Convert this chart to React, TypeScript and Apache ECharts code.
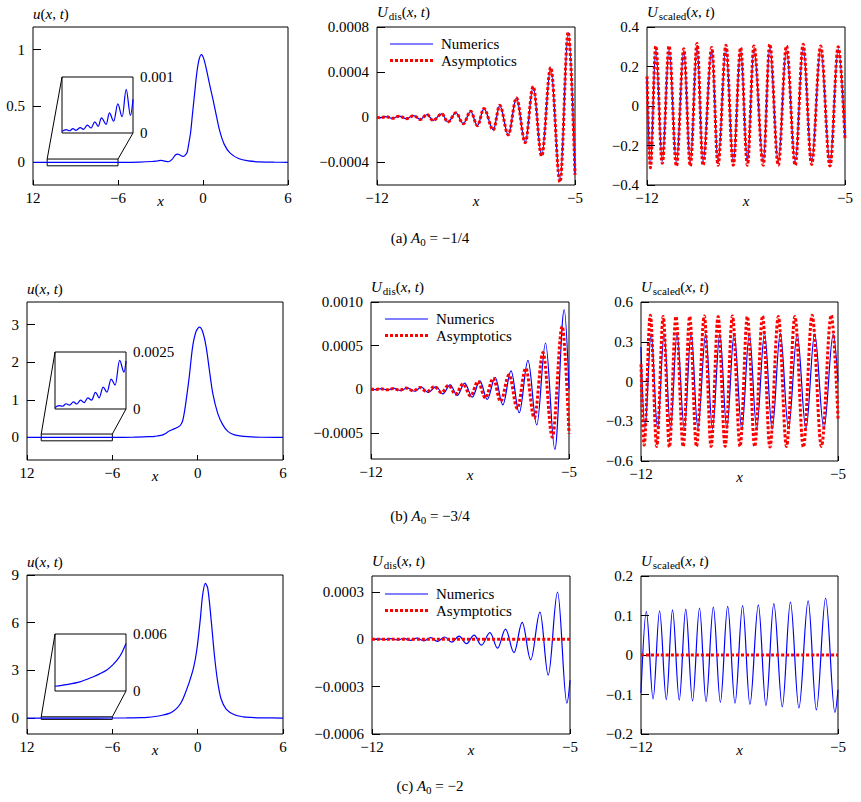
import React, { useEffect, useRef } from 'react';
import * as echarts from 'echarts';

const SERIF = 'Liberation Serif, DejaVu Serif, serif';
const BLUE = '#0000ff';
const RED = '#ff0000';

// magnified window: x-range shared by all three rows
const INSET_X = [-11, -6];

// ---------------- (a) A0 = -1/4 ----------------
const uCurveA: [number, number][] = [
  [-12, 0], [-8, 0.0005], [-6, 0.001], [-4.5, 0.003], [-3.6, 0.008], [-3.2, 0.014], [-2.95, 0.018],
  [-2.7, 0.012], [-2.45, 0.006], [-2.2, 0.025], [-1.95, 0.066], [-1.8, 0.074], [-1.6, 0.064],
  [-1.42, 0.053], [-1.25, 0.065], [-1.12, 0.09], [-1.0, 0.17], [-0.87, 0.27], [-0.75, 0.42],
  [-0.6, 0.6], [-0.45, 0.78], [-0.3, 0.9], [-0.12, 0.955], [0.05, 0.92], [0.25, 0.82], [0.45, 0.7],
  [0.7, 0.56], [0.95, 0.41], [1.2, 0.27], [1.5, 0.16], [1.9, 0.085], [2.5, 0.035], [3.2, 0.013],
  [4, 0.005], [5, 0.002], [6, 0.001],
];
const insetXA = [-11, -10.7, -10.47, -10.23, -10.02, -9.71, -9.49, -9.21, -8.95, -8.69, -8.45, -8.22, -7.89, -7.66, -7.36, -7.07, -6.76, -6.48, -6.18, -6];
const insetA = [0.00003, 0.00006, 0.00004, 0.000077, 0.000048, 0.000095, 0.000065, 0.00014, 0.00009, 0.0002, 0.00012, 0.00027, 0.000155, 0.00036, 0.00021, 0.00052, 0.00029, 0.00078, 0.000315, 0.0006];

const xA = [-12, -11.88, -11.69, -11.46, -11.22, -10.96, -10.7, -10.47, -10.23, -10.02, -9.71, -9.49, -9.21, -8.95, -8.69, -8.45, -8.22, -7.89, -7.66, -7.36, -7.07, -6.76, -6.48, -6.18, -5.86, -5.53, -5.24, -5];
const disNumA = [0.000002, -0.000005, 0.000006, -0.000009, 0.00001, -0.000012, 0.000015, -0.000018, 0.000024, -0.000027, 0.00003, -0.000041, 0.000039, -0.000056, 0.000053, -0.000074, 0.000077, -0.00011, 0.000104, -0.000154, 0.000169, -0.000222, 0.00027, -0.00034, 0.000438, -0.000569, 0.00075, -0.0005];
const disAsyA = [0.000002, -0.000005, 0.000006, -0.000009, 0.00001, -0.000012, 0.000015, -0.000019, 0.000024, -0.000028, 0.00003, -0.000042, 0.00004, -0.000057, 0.000054, -0.000075, 0.000078, -0.000112, 0.000106, -0.000156, 0.000171, -0.000225, 0.000273, -0.000344, 0.000442, -0.000574, 0.000755, -0.00051];
const scNumA = [0.14, -0.295, 0.29, -0.28, 0.29, -0.29, 0.28, -0.29, 0.3, -0.285, 0.285, -0.285, 0.295, -0.285, 0.285, -0.285, 0.29, -0.285, 0.3, -0.285, 0.29, -0.285, 0.3, -0.285, 0.29, -0.29, 0.29, -0.16];
const scAsyA = [0.15, -0.313, 0.304, -0.29, 0.304, -0.304, 0.29, -0.304, 0.316, -0.3, 0.296, -0.3, 0.308, -0.3, 0.296, -0.3, 0.304, -0.3, 0.313, -0.3, 0.304, -0.3, 0.313, -0.296, 0.304, -0.304, 0.3, -0.17];

const uTicksA = [0, 0.5, 1];
const uLabelsA = ['0', '0.5', '1'];
const disTicksA = [-0.0004, 0, 0.0004, 0.0008];
const disLabelsA = ['−0.0004', '0', '0.0004', '0.0008'];
const scTicksA = [-0.4, -0.2, 0, 0.2, 0.4];
const scLabelsA = ['−0.4', '−0.2', '0', '0.2', '0.4'];

// ---------------- (b) A0 = -3/4 ----------------
const uCurveB: [number, number][] = [
  [-12, 0], [-6, 0.002], [-4.5, 0.008], [-3.5, 0.02], [-3.0, 0.03], [-2.5, 0.06], [-2.2, 0.12],
  [-2.0, 0.17], [-1.7, 0.22], [-1.4, 0.27], [-1.2, 0.33], [-1.05, 0.45], [-0.9, 0.75], [-0.75, 1.15],
  [-0.59, 1.62], [-0.35, 2.42], [-0.12, 2.81], [0.12, 2.93], [0.35, 2.81], [0.59, 2.42], [0.82, 1.8],
  [1.06, 1.18], [1.41, 0.64], [1.76, 0.34], [2.12, 0.16], [2.59, 0.07], [3.53, 0.02], [4.5, 0.005], [6, 0],
];
const insetXB = [-11, -10.72, -10.46, -10.22, -9.98, -9.7, -9.46, -9.2, -8.95, -8.69, -8.42, -8.15, -7.89, -7.61, -7.34, -7.05, -6.76, -6.45, -6.14, -6];
const insetB = [0.00007, 0.00015, 0.00012, 0.00023, 0.00017, 0.00031, 0.00022, 0.00039, 0.00028, 0.00049, 0.00039, 0.00073, 0.00049, 0.00096, 0.00074, 0.00131, 0.00105, 0.00213, 0.00162, 0.0021];

const xNumB = [-12, -11.86, -11.64, -11.41, -11.18, -10.95, -10.72, -10.46, -10.22, -9.98, -9.7, -9.46, -9.2, -8.95, -8.69, -8.42, -8.15, -7.89, -7.61, -7.34, -7.05, -6.76, -6.45, -6.14, -5.83, -5.5, -5.17, -5];
const xAsyB = [-12, -11.89, -11.67, -11.44, -11.21, -10.99, -10.76, -10.5, -10.27, -10.03, -9.75, -9.51, -9.26, -9.01, -8.75, -8.48, -8.22, -7.96, -7.68, -7.42, -7.12, -6.83, -6.53, -6.23, -5.92, -5.59, -5.24, -5];
const disNumB = [0.000003, -0.000005, 0.000007, -0.000008, 0.00001, -0.000015, 0.000015, -0.000023, 0.000023, -0.000038, 0.00003, -0.000053, 0.00005, -0.000072, 0.00007, -0.00009, 0.000095, -0.000118, 0.000135, -0.00018, 0.00021, -0.00027, 0.00033, -0.00041, 0.00053, -0.00069, 0.00091, 0.0];
const disAsyB = [0.000002, -0.000004, 0.000005, -0.000007, 0.000008, -0.000012, 0.000013, -0.000018, 0.00002, -0.000028, 0.00003, -0.00004, 0.000045, -0.000058, 0.00006, -0.000078, 0.00009, -0.0001, 0.000125, -0.00014, 0.000165, -0.00022, 0.00024, -0.00033, 0.00042, -0.00055, 0.00072, -0.00051];
const scNumB = [0.26, -0.35, 0.36, -0.355, 0.36, -0.355, 0.36, -0.36, 0.365, -0.355, 0.36, -0.36, 0.36, -0.355, 0.365, -0.36, 0.36, -0.355, 0.365, -0.36, 0.365, -0.355, 0.36, -0.36, 0.36, -0.355, 0.355, 0.0];
const scAsyB = [0.13, -0.48, 0.5, -0.49, 0.49, -0.495, 0.49, -0.49, 0.49, -0.49, 0.495, -0.49, 0.49, -0.49, 0.495, -0.49, 0.49, -0.49, 0.495, -0.495, 0.49, -0.49, 0.49, -0.495, 0.5, -0.49, 0.5, -0.28];

const uTicksB = [0, 1, 2, 3];
const uLabelsB = ['0', '1', '2', '3'];
const disTicksB = [-0.0005, 0, 0.0005, 0.001];
const disLabelsB = ['−0.0005', '0', '0.0005', '0.0010'];
const scTicksB = [-0.6, -0.3, 0, 0.3, 0.6];
const scLabelsB = ['−0.6', '−0.3', '0', '0.3', '0.6'];

// ---------------- (c) A0 = -2 ----------------
const uCurveC: [number, number][] = [
  [-12, 0], [-7, 0.003], [-5, 0.01], [-4, 0.03], [-3.53, 0.05], [-3, 0.1], [-2.5, 0.18], [-2.0, 0.3],
  [-1.7, 0.45], [-1.41, 0.67], [-1.15, 1.0], [-0.94, 1.41], [-0.59, 2.26], [-0.28, 3.2], [-0.05, 4.36],
  [0.19, 6.26], [0.35, 7.74], [0.54, 8.47], [0.71, 8.16], [0.94, 6.26], [1.18, 3.94], [1.41, 2.26],
  [1.65, 1.2], [2.0, 0.57], [2.59, 0.21], [3.2, 0.08], [3.76, 0.04], [4.5, 0.015], [6, 0.003],
];
const insetXC = [-11, -10.2, -9.25, -8.3, -7.85, -7.35, -6.9, -6.55, -6.3, -6];
const insetC = [0.0005, 0.00067, 0.00096, 0.0015, 0.0018, 0.0022, 0.0028, 0.0034, 0.004, 0.005];

const xC = [-12, -11.81, -11.57, -11.34, -11.1, -10.88, -10.64, -10.41, -10.17, -9.92, -9.69, -9.43, -9.18, -8.92, -8.66, -8.39, -8.13, -7.83, -7.56, -7.28, -6.98, -6.69, -6.39, -6.06, -5.77, -5.44, -5.11, -5];
const disNumC = [-0.000002, 0.000003, -0.000003, 0.000004, -0.000005, 0.000005, -0.000007, 0.000007, -0.00001, 0.00001, -0.000014, 0.000014, -0.000019, 0.00002, -0.000028, 0.000026, -0.000038, 0.000042, -0.000057, 0.000064, -0.000085, 0.000106, -0.000131, 0.000171, -0.000227, 0.000298, -0.000405, -0.00026];
const scNumC = [-0.096, 0.11, -0.111, 0.112, -0.113, 0.114, -0.114, 0.116, -0.116, 0.119, -0.118, 0.121, -0.12, 0.123, -0.122, 0.125, -0.125, 0.127, -0.128, 0.13, -0.131, 0.134, -0.134, 0.137, -0.139, 0.144, -0.145, -0.088];
const xAsyC = [-12, -5];
const disAsyC = [0, 0];
const scAsyC = [0, 0];

const uTicksC = [0, 3, 6, 9];
const uLabelsC = ['0', '3', '6', '9'];
const disTicksC = [-0.0006, -0.0003, 0, 0.0003];
const disLabelsC = ['−0.0006', '−0.0003', '0', '0.0003'];
const scTicksC = [-0.2, -0.1, 0, 0.1, 0.2];
const scLabelsC = ['−0.2', '−0.1', '0', '0.1', '0.2'];

// shared x ticks
const uXTicks = [-12, -6, 0, 6];
const uXLabels = ['12', '−6', '0', '6'];
const wXTicks = [-12, -5];
const wXLabels = ['−12', '−5'];

const zip = (xs: number[], ys: number[]) => xs.map((x, i) => [x, ys[i]]);

const rows = [
  {
    u: uCurveA, uRange: [-0.2, 1.2], uTicks: uTicksA, uLabels: uLabelsA, marker: [-0.03, 0.03],
    inset: zip(insetXA, insetA), insetTop: 0.001, insetLabels: ['0', '0.001'], insetOsc: true,
    disNum: zip(xA, disNumA), disAsy: zip(xA, disAsyA), disRange: [-0.0006, 0.0008], disTicks: disTicksA, disLabels: disLabelsA,
    scNum: zip(xA, scNumA), scAsy: zip(xA, scAsyA), scRange: [-0.4, 0.4], scTicks: scTicksA, scLabels: scLabelsA,
    tag: '(a) ', a0: ' = −1/4',
  },
  {
    u: uCurveB, uRange: [-0.6, 3.6], uTicks: uTicksB, uLabels: uLabelsB, marker: [-0.09, 0.09],
    inset: zip(insetXB, insetB), insetTop: 0.0025, insetLabels: ['0', '0.0025'], insetOsc: true,
    disNum: zip(xNumB, disNumB), disAsy: zip(xAsyB, disAsyB), disRange: [-0.0008, 0.001], disTicks: disTicksB, disLabels: disLabelsB,
    scNum: zip(xNumB, scNumB), scAsy: zip(xAsyB, scAsyB), scRange: [-0.6, 0.6], scTicks: scTicksB, scLabels: scLabelsB,
    tag: '(b) ', a0: ' = −3/4',
  },
  {
    u: uCurveC, uRange: [-1, 9], uTicks: uTicksC, uLabels: uLabelsC, marker: [-0.08, 0.08],
    inset: zip(insetXC, insetC), insetTop: 0.006, insetLabels: ['0', '0.006'], insetOsc: false,
    disNum: zip(xC, disNumC), disAsy: zip(xAsyC, disAsyC), disRange: [-0.0006, 0.0004], disTicks: disTicksC, disLabels: disLabelsC,
    scNum: zip(xC, scNumC), scAsy: zip(xAsyC, scAsyC), scRange: [-0.2, 0.2], scTicks: scTicksC, scLabels: scLabelsC,
    tag: '(c) ', a0: ' = −2',
  },
];

// panel boxes in pixels: [left, top, width, height]; key = [left, first-row y]
const LAYOUT = [
  { left: [33, 27, 255, 158], mid: [377, 27, 198, 158], right: [647, 27, 198, 158], inset: [62, 77, 71, 56], key: [390, 44], caption: 239 },
  { left: [27, 302, 256, 158], mid: [371, 302, 198, 157], right: [641, 302, 197, 159], inset: [55, 352, 71, 57], key: [385, 319], caption: 517 },
  { left: [27, 575, 256, 159], mid: [372, 576, 198, 158], right: [641, 576, 197, 158], inset: [55, 634, 71, 57], key: [385, 594], caption: 787 },
];
const KEY_NAMES = ['Numerics', 'Asymptotics'];
const KEY_SWATCH = 43;
const KEY_ROW = 16.5;

const nameRich = {
  i: { fontFamily: SERIF, fontSize: 15, fontStyle: 'italic', color: '#000', verticalAlign: 'top' },
  n: { fontFamily: SERIF, fontSize: 15, color: '#000', verticalAlign: 'top' },
  s: { fontFamily: SERIF, fontSize: 11, color: '#000', padding: [6, 0, 0, 1], verticalAlign: 'top' },
};
const U_NAME = '{i|u}{n|(}{i|x}{n|, }{i|t}{n|)}';
const DIS_NAME = '{i|U}{s|dis}{n|(}{i|x}{n|, }{i|t}{n|)}';
const SC_NAME = '{i|U}{s|scaled}{n|(}{i|x}{n|, }{i|t}{n|)}';

const labelFor = (ticks: number[], labels: string[]) => (v: number) => {
  let best = 0;
  ticks.forEach((t, i) => {
    if (Math.abs(t - v) < Math.abs(ticks[best] - v)) best = i;
  });
  return labels[best];
};

const labelStyle = { color: '#000', fontFamily: SERIF, fontSize: 15 };

function grid(box: number[], bg = 'transparent') {
  return {
    left: box[0], top: box[1], width: box[2], height: box[3],
    show: true, borderColor: '#000', borderWidth: 1, backgroundColor: bg,
    containLabel: false, outerBoundsMode: 'none',
  };
}

function xAxis(gi: number, range: number[], ticks: number[], labels: string[]) {
  return {
    type: 'value', gridIndex: gi, min: range[0], max: range[1], position: 'bottom',
    axisLine: { show: false, onZero: false }, splitLine: { show: false },
    axisTick: { show: true, inside: true, length: 5, customValues: ticks, lineStyle: { color: '#000', width: 1 } },
    axisLabel: { ...labelStyle, customValues: ticks, formatter: labelFor(ticks, labels), margin: 5, showMinLabel: true, showMaxLabel: true },
    name: 'x', nameLocation: 'middle', nameGap: 8, nameMoveOverlap: false,
    nameTextStyle: { fontFamily: SERIF, fontStyle: 'italic', fontSize: 15, color: '#000', verticalAlign: 'top' },
  };
}

function yAxis(gi: number, range: number[], ticks: number[], labels: string[], name: string) {
  return {
    type: 'value', gridIndex: gi, min: range[0], max: range[1], position: 'left',
    axisLine: { show: false, onZero: false }, splitLine: { show: false },
    axisTick: { show: true, inside: true, length: 8, customValues: ticks, lineStyle: { color: '#000', width: 1 } },
    axisLabel: { ...labelStyle, customValues: ticks, formatter: labelFor(ticks, labels), margin: 8, showMinLabel: true, showMaxLabel: true },
    name, nameLocation: 'end', nameGap: 6, nameMoveOverlap: false,
    nameTextStyle: { align: 'left', verticalAlign: 'bottom', rich: nameRich },
  };
}

const blueLine = { color: BLUE, width: 1.2 };
const redDots = { color: RED, width: 3, type: [3, 2], cap: 'butt' };

function buildOption() {
  const grids: any[] = [];
  const xAxes: any[] = [];
  const yAxes: any[] = [];
  const series: any[] = [];

  rows.forEach((row, r) => {
    const lay = LAYOUT[r];
    const g0 = 4 * r;
    // full profile
    grids.push(grid(lay.left));
    xAxes.push(xAxis(g0, [-12, 6], uXTicks, uXLabels));
    yAxes.push(yAxis(g0, row.uRange, row.uTicks, row.uLabels, U_NAME));
    // dispersive part
    grids.push(grid(lay.mid));
    xAxes.push(xAxis(g0 + 1, [-12, -5], wXTicks, wXLabels));
    yAxes.push(yAxis(g0 + 1, row.disRange, row.disTicks, row.disLabels, DIS_NAME));
    // scaled dispersive part
    grids.push(grid(lay.right));
    xAxes.push(xAxis(g0 + 2, [-12, -5], wXTicks, wXLabels));
    yAxes.push(yAxis(g0 + 2, row.scRange, row.scTicks, row.scLabels, SC_NAME));
    // magnified window
    grids.push(grid(lay.inset, '#fff'));
    xAxes.push({ type: 'value', gridIndex: g0 + 3, min: INSET_X[0], max: INSET_X[1], show: false });
    yAxes.push({
      type: 'value', gridIndex: g0 + 3, min: 0, max: row.insetTop, position: 'right',
      axisLine: { show: false, onZero: false }, axisTick: { show: false }, splitLine: { show: false },
      axisLabel: {
        ...labelStyle, customValues: [0, row.insetTop], margin: 7,
        formatter: labelFor([0, row.insetTop], row.insetLabels), showMinLabel: true, showMaxLabel: true,
      },
    });

    series.push({
      type: 'line', xAxisIndex: g0, yAxisIndex: g0, data: row.u, smooth: 0.3,
      symbol: 'none', lineStyle: blueLine, silent: true,
      markArea: {
        silent: true,
        label: { show: false },
        itemStyle: { color: 'rgba(0,0,0,0)', borderColor: '#000', borderWidth: 1 },
        data: [[{ coord: [INSET_X[0], row.marker[0]] }, { coord: [INSET_X[1], row.marker[1]] }]],
      },
    });
    series.push({
      type: 'line', xAxisIndex: g0 + 3, yAxisIndex: g0 + 3, data: row.inset,
      smooth: row.insetOsc ? 0.36 : 0.3, smoothMonotone: row.insetOsc ? 'x' : undefined,
      symbol: 'none', lineStyle: blueLine, silent: true,
    });
    series.push({
      name: 'Numerics', type: 'line', xAxisIndex: g0 + 1, yAxisIndex: g0 + 1, data: row.disNum,
      smooth: 0.36, smoothMonotone: 'x', symbol: 'none', lineStyle: blueLine, silent: true,
    });
    series.push({
      name: 'Asymptotics', type: 'line', xAxisIndex: g0 + 1, yAxisIndex: g0 + 1, data: row.disAsy,
      smooth: 0.36, smoothMonotone: 'x', symbol: 'none', lineStyle: redDots, silent: true,
    });
    series.push({
      name: 'Numerics', type: 'line', xAxisIndex: g0 + 2, yAxisIndex: g0 + 2, data: row.scNum,
      smooth: 0.36, smoothMonotone: 'x', symbol: 'none', lineStyle: blueLine, silent: true,
    });
    series.push({
      name: 'Asymptotics', type: 'line', xAxisIndex: g0 + 2, yAxisIndex: g0 + 2, data: row.scAsy,
      smooth: 0.36, smoothMonotone: 'x', symbol: 'none', lineStyle: redDots, silent: true,
    });
  });

  return {
    animation: false,
    backgroundColor: '#fff',
    textStyle: { fontFamily: SERIF },
    grid: grids,
    xAxis: xAxes,
    yAxis: yAxes,
    series,
  };
}

function buildGraphics(chart: echarts.ECharts) {
  const out: any[] = [];
  rows.forEach((row, r) => {
    const lay = LAYOUT[r];
    const g0 = 4 * r;
    const gi = g0 + 3;
    // connectors from the marker box to the magnified window
    const p1 = chart.convertToPixel({ gridIndex: g0 }, [INSET_X[0], row.marker[1]]) as number[];
    const q1 = chart.convertToPixel({ gridIndex: gi }, [INSET_X[0], row.insetTop]) as number[];
    const p2 = chart.convertToPixel({ gridIndex: g0 }, [INSET_X[1], row.marker[1]]) as number[];
    const q2 = chart.convertToPixel({ gridIndex: gi }, [INSET_X[1], 0]) as number[];
    out.push({ type: 'line', silent: true, shape: { x1: p1[0], y1: p1[1], x2: q1[0], y2: q1[1] }, style: { stroke: '#000', lineWidth: 1 } });
    out.push({ type: 'line', silent: true, shape: { x1: p2[0], y1: p2[1], x2: q2[0], y2: q2[1] }, style: { stroke: '#000', lineWidth: 1 } });

    // key for the dispersive panel
    KEY_NAMES.forEach((label, k) => {
      const y = lay.key[1] + k * KEY_ROW;
      out.push({
        type: 'line', silent: true,
        shape: { x1: lay.key[0], y1: y, x2: lay.key[0] + KEY_SWATCH, y2: y },
        style: k === 0
          ? { stroke: BLUE, lineWidth: 1.2 }
          : { stroke: RED, lineWidth: 3, lineDash: [3, 2] },
      });
      out.push({
        type: 'text', silent: true, x: lay.key[0] + KEY_SWATCH + 8, y,
        style: { text: label, fontFamily: SERIF, fontSize: 15, fill: '#000', align: 'left', verticalAlign: 'middle' },
      });
    });

    out.push({
      type: 'text', silent: true, x: 430, y: lay.caption,
      style: {
        text: `{n|${row.tag}}{i|A}{s|0}{n|${row.a0}}`,
        align: 'center', verticalAlign: 'middle',
        rich: {
          n: { fontFamily: SERIF, fontSize: 15, fill: '#000', verticalAlign: 'top' },
          i: { fontFamily: SERIF, fontSize: 15, fontStyle: 'italic', fill: '#000', verticalAlign: 'top' },
          s: { fontFamily: SERIF, fontSize: 11, fill: '#000', padding: [6, 0, 0, 0], verticalAlign: 'top' },
        },
      },
    });
  });
  return out;
}

export default function App() {
  const ref = useRef<HTMLDivElement>(null);
  useEffect(() => {
    const chart = echarts.init(ref.current!, null, { renderer: 'svg' });
    chart.setOption(buildOption() as any);
    chart.setOption({ graphic: buildGraphics(chart) } as any);
    return () => chart.dispose();
  }, []);
  return (
    <div
      ref={ref}
      style={{ position: 'fixed', left: 0, top: 0, width: 861, height: 802, background: '#fff' }}
    />
  );
}
